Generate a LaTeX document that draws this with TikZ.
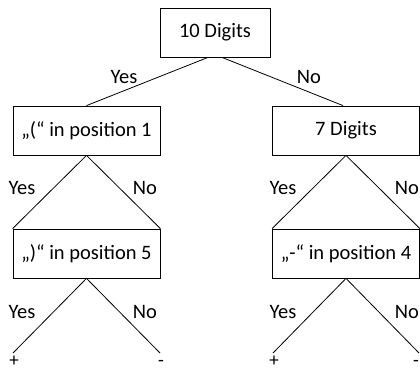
\documentclass[tikz,border=0pt]{standalone}
\usepackage{fontspec}
\setmainfont{Carlito}
\usetikzlibrary{positioning,calc}

\begin{document}
\begin{tikzpicture}[x=1pt,y=-1pt,line width=0.8pt,
    test/.style={draw,rectangle,minimum width=147pt,minimum height=49pt,inner sep=0pt,font=\fontsize{20.5}{24}\selectfont},
    lbl/.style={inner sep=0pt,font=\fontsize{20.5}{24}\selectfont},
    sign/.style={inner sep=0pt,anchor=base,font=\fontsize{19}{20}\selectfont}]
    \useasboundingbox (0,0) rectangle (420,371);

    % boxes
    \node[test,minimum width=110pt] (digits10) at (215,32.5) {10 Digits};
    \node[test] (paren1) at (86.5,130.5) {„(“ in position 1};
    \node[test] (digits7) at (346,130.5) {7 Digits};
    \node[test] (paren5) at (86.5,253.5) {„)“ in position 5};
    \node[test] (dash4) at (346,253.5) {„-“ in position 4};

    % leaves
    \coordinate (leftyes) at (13,353);
    \coordinate (leftno) at (160,353);
    \coordinate (rightyes) at (273,353);
    \coordinate (rightno) at (419,353);

    % branches
    \draw ([xshift=-7pt]digits10.south) -- (paren1.north);
    \draw ([xshift=7pt]digits10.south) -- ([xshift=-3pt]digits7.north);
    \draw (paren1.south) -- (paren5.north west);
    \draw (paren1.south) -- (paren5.north east);
    \draw (digits7.south) -- (dash4.north west);
    \draw (digits7.south) -- (dash4.north east);
    \draw (paren5.south) -- (leftyes);
    \draw (paren5.south) -- (leftno);
    \draw (dash4.south) -- (rightyes);
    \draw (dash4.south) -- (rightno);

    % labels
    \node[lbl] (yes1) at (124,77) {Yes};
    \node[lbl] (no1) at (309,77) {No};
    \node[lbl] (yes2) at (22,188) {Yes};
    \node[lbl] (no2) at (145,188) {No};
    \node[lbl] (yes3) at (283,188) {Yes};
    \node[lbl] (no3) at (407,188) {No};
    \node[lbl] (yes4) at (22,312) {Yes};
    \node[lbl] (no4) at (145,312) {No};
    \node[lbl] (yes5) at (283,312) {Yes};
    \node[lbl] (no5) at (407,312) {No};
    \node[sign] (plus1) at (14,366) {+};
    \node[sign] (minus1) at (161,366) {-};
    \node[sign] (plus2) at (274,366) {+};
    \node[sign] (minus2) at (416,366) {-};
\end{tikzpicture}
\end{document}
